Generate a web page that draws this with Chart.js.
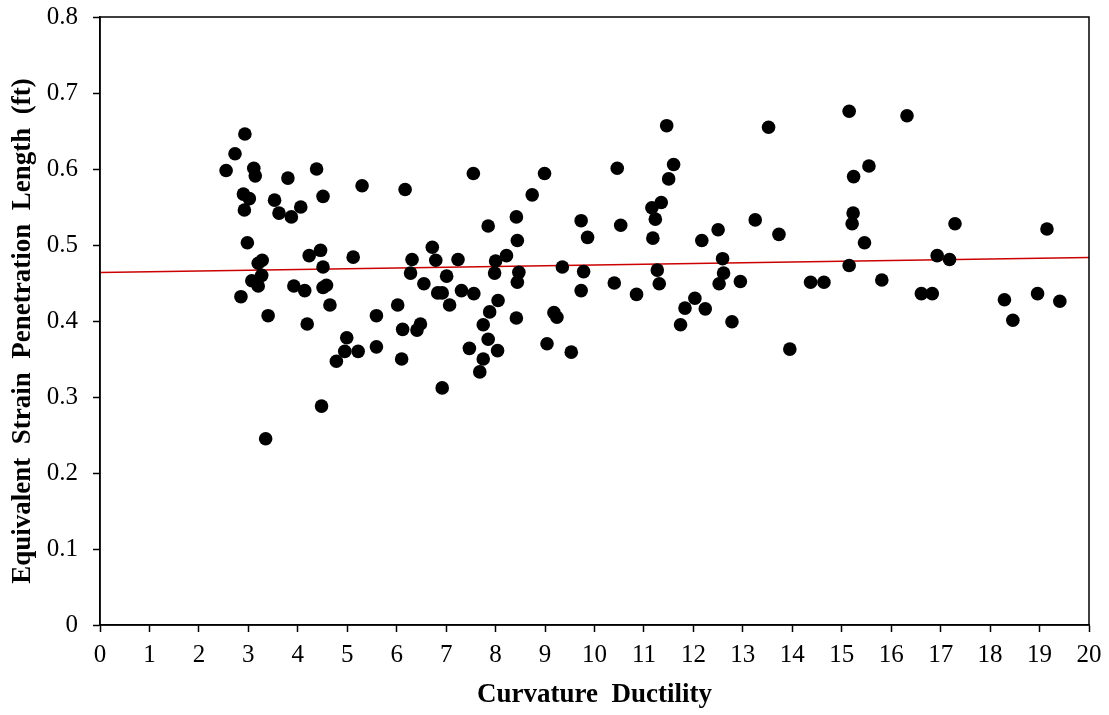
<!DOCTYPE html>
<html>
<head>
<meta charset="utf-8">
<script src="https://cdn.jsdelivr.net/npm/chart.js@4"></script>
<style>
  html, body { margin: 0; padding: 0; background: #fff; }
  #wrap { width: 1109px; height: 715px; }
</style>
</head>
<body>
<div id="wrap"><canvas id="chart" width="1109" height="715"></canvas></div>
<script>
// 曲率延性（横轴）
const ductility = [
    2.93, 2.73, 2.55, 3.11, 3.14, 3.80, 4.38, 2.90, 3.02, 2.92,
    3.53, 3.62, 3.87, 4.06, 4.51, 5.30, 6.17, 7.55, 8.99, 8.74,
    8.42, 7.85, 2.98, 8.44, 4.23, 4.46, 5.12, 3.28, 3.20, 4.51,
    6.31, 6.72, 6.79, 7.24, 8.00, 8.22, 9.35, 6.28, 7.01, 7.98,
    8.47, 8.44, 3.27, 3.07, 3.20, 2.85, 3.92, 4.14, 4.51, 4.58,
    4.65, 3.40, 4.19, 6.55, 6.83, 6.92, 7.07, 7.31, 7.56, 8.05,
    7.88, 8.42, 7.75, 7.85, 8.04, 7.75, 7.68, 7.47, 6.92, 9.18,
    9.24, 9.04, 9.53, 6.02, 5.59, 6.12, 6.41, 6.48, 6.10, 5.59,
    4.99, 4.95, 5.22, 4.78, 4.48, 3.35,
    11.46, 13.52, 15.15, 10.46, 11.60, 11.50, 15.24, 11.35, 11.16, 11.23,
    9.73, 10.53, 13.25, 15.23, 15.21, 9.86, 11.18, 12.17, 12.50, 13.73,
    12.59, 15.15, 9.78, 11.27, 12.61, 10.40, 11.31, 12.52, 12.95, 14.37,
    14.64, 9.73, 10.85, 12.03, 11.83, 12.24, 11.74, 12.78, 13.95,
    16.32, 15.55, 15.46, 17.29, 19.15, 16.93, 17.18, 15.81, 16.61, 16.83,
    18.29, 18.96, 19.41, 18.46
];

// 等效应变渗透长度（纵轴, ft）
const penLength = [
    0.646, 0.620, 0.598, 0.601, 0.591, 0.588, 0.600, 0.567, 0.561, 0.546,
    0.559, 0.542, 0.537, 0.550, 0.564, 0.578, 0.573, 0.594, 0.594, 0.566,
    0.537, 0.525, 0.503, 0.506, 0.486, 0.493, 0.484, 0.480, 0.476, 0.471,
    0.481, 0.497, 0.480, 0.481, 0.479, 0.486, 0.471, 0.463, 0.459, 0.463,
    0.464, 0.451, 0.460, 0.453, 0.446, 0.432, 0.446, 0.440, 0.444, 0.447,
    0.421, 0.407, 0.396, 0.449, 0.437, 0.437, 0.421, 0.440, 0.436, 0.427,
    0.412, 0.404, 0.395, 0.376, 0.361, 0.350, 0.333, 0.364, 0.312, 0.411,
    0.405, 0.370, 0.359, 0.421, 0.407, 0.389, 0.388, 0.396, 0.350, 0.366,
    0.378, 0.360, 0.360, 0.347, 0.288, 0.245,
    0.657, 0.655, 0.676, 0.601, 0.606, 0.587, 0.590, 0.556, 0.549, 0.534,
    0.532, 0.526, 0.533, 0.542, 0.528, 0.510, 0.509, 0.506, 0.520, 0.514,
    0.482, 0.473, 0.465, 0.467, 0.463, 0.450, 0.449, 0.449, 0.452, 0.451,
    0.451, 0.440, 0.435, 0.430, 0.417, 0.416, 0.395, 0.399, 0.363,
    0.670, 0.604, 0.503, 0.528, 0.521, 0.486, 0.481, 0.454, 0.436, 0.436,
    0.428, 0.436, 0.426, 0.401
];

// 趋势线端点
const trendX = [0, 20];
const trendY = [0.4638, 0.4837];

const axisFont = 'Liberation Serif, Times New Roman, serif';
const yTitle = 'Equivalent  Strain  Penetration  Length  (ft)';

// 绘图区外框 + 纵轴标题
const frame = {
    id: 'frame',
    afterDraw(chart) {
        const { ctx, chartArea: a } = chart;
        ctx.save();
        ctx.strokeStyle = '#000';
        ctx.lineWidth = 1.5;
        ctx.strokeRect(a.left, a.top, a.right - a.left, a.bottom - a.top);
        ctx.restore();

        ctx.save();
        ctx.translate(23, 331);
        ctx.rotate(-Math.PI / 2);
        ctx.fillStyle = '#000';
        ctx.font = 'bold 27px ' + axisFont;
        ctx.textAlign = 'center';
        ctx.textBaseline = 'middle';
        ctx.fillText(yTitle, 0, 0);
        ctx.restore();
    }
};

new Chart(document.getElementById('chart'), {
    type: 'scatter',
    data: {
        datasets: [
            {
                data: ductility.map((x, i) => ({ x: x, y: penLength[i] })),
                backgroundColor: '#000',
                borderColor: '#000',
                pointRadius: 6.8,
                pointHoverRadius: 6.8,
                borderWidth: 0
            },
            {
                type: 'line',
                data: trendX.map((x, i) => ({ x: x, y: trendY[i] })),
                borderColor: '#cc0000',
                borderWidth: 1.5,
                pointRadius: 0,
                fill: false
            }
        ]
    },
    options: {
        responsive: false,
        animation: false,
        layout: { padding: { top: 17, right: 20, left: 0, bottom: 0 } },
        plugins: {
            legend: { display: false },
            tooltip: { enabled: false }
        },
        scales: {
            x: {
                type: 'linear',
                min: 0,
                max: 20,
                ticks: {
                    stepSize: 1,
                    color: '#000',
                    padding: 8,
                    font: { family: axisFont, size: 25 }
                },
                grid: {
                    drawOnChartArea: false,
                    tickLength: 7,
                    tickColor: '#000',
                    tickWidth: 1.5
                },
                border: { color: '#000', width: 1.5 },
                title: {
                    display: true,
                    text: 'Curvature  Ductility',
                    color: '#000',
                    font: { family: axisFont, size: 27, weight: 'bold' },
                    padding: { top: 0, bottom: 4 }
                },
                afterFit(scale) {
                    scale.height = 90;
                    scale.paddingLeft = 0;
                    scale.paddingRight = 0;
                }
            },
            y: {
                min: 0,
                max: 0.8,
                ticks: {
                    stepSize: 0.1,
                    color: '#000',
                    padding: 15,
                    font: { family: axisFont, size: 25 },
                    callback: v => v === 0 ? '0' : v.toFixed(1)
                },
                grid: {
                    drawOnChartArea: false,
                    tickLength: 7,
                    tickColor: '#000',
                    tickWidth: 1.5
                },
                border: { color: '#000', width: 1.5 },
                afterFit(scale) {
                    scale.width = 100;
                    scale.paddingTop = 0;
                    scale.paddingBottom = 0;
                }
            }
        }
    },
    plugins: [frame]
});
</script>
</body>
</html>
